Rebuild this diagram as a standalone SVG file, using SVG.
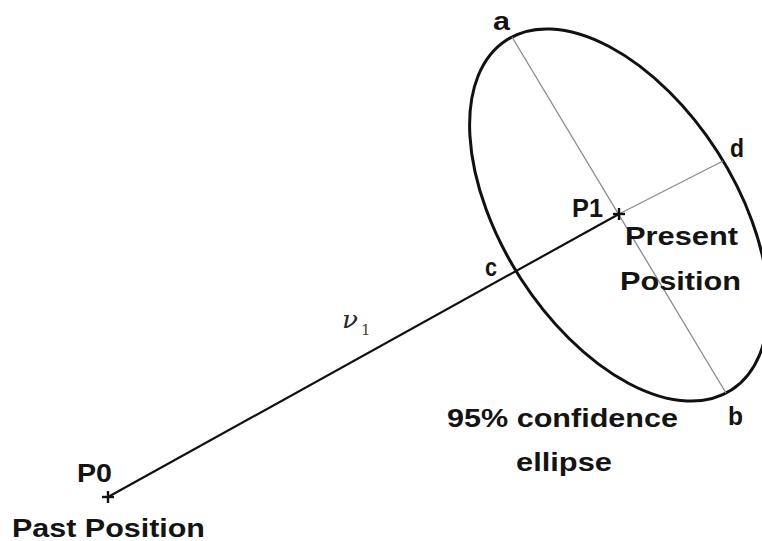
<svg xmlns="http://www.w3.org/2000/svg" width="762" height="541" viewBox="0 0 762 541">
  <style>
    .lbl { font-family: "Liberation Sans", Arial, sans-serif; font-weight: bold; font-size: 25px; fill: #141414; }
    .axis { stroke: #8a8a8a; stroke-width: 1.3; fill: none; }
    .track { stroke: #111; stroke-width: 2.2; fill: none; }
    .cross { stroke: #111; stroke-width: 2.4; }
    .ell { stroke: #111; stroke-width: 3; fill: none; }
    .math { font-family: "DejaVu Serif", "Liberation Serif", serif; }
  </style>
  <rect width="762" height="541" fill="#fff"/>
  <g id="ellipse">
    <ellipse class="ell" cx="619" cy="215" rx="208" ry="117" transform="rotate(57.3 619 215)"/>
    <text class="lbl" x="447" y="427" textLength="231" lengthAdjust="spacingAndGlyphs">95% confidence</text>
    <text class="lbl" x="516" y="471" textLength="96" lengthAdjust="spacingAndGlyphs">ellipse</text>
  </g>
  <g id="connectors">
    <line class="axis" x1="512" y1="37" x2="726" y2="393"/>
    <line class="axis" x1="619" y1="214" x2="723" y2="161"/>
    <line class="track" x1="108" y1="497" x2="619" y2="214"/>
  </g>
  <g id="label-a"><text class="lbl" x="493" y="30" textLength="17" lengthAdjust="spacingAndGlyphs">a</text></g>
  <g id="label-b"><text class="lbl" x="728" y="425" textLength="15" lengthAdjust="spacingAndGlyphs">b</text></g>
  <g id="label-c"><text class="lbl" x="485" y="276" textLength="12" lengthAdjust="spacingAndGlyphs">c</text></g>
  <g id="label-d"><text class="lbl" x="730" y="157" textLength="14" lengthAdjust="spacingAndGlyphs">d</text></g>
  <g id="P1">
    <line class="cross" x1="613" y1="214" x2="625" y2="214"/>
    <line class="cross" x1="619" y1="208" x2="619" y2="220"/>
    <text class="lbl" x="572" y="217" textLength="31" lengthAdjust="spacingAndGlyphs">P1</text>
    <text class="lbl" x="625" y="245" textLength="113" lengthAdjust="spacingAndGlyphs">Present</text>
    <text class="lbl" x="620" y="290" textLength="121" lengthAdjust="spacingAndGlyphs">Position</text>
  </g>
  <g id="P0">
    <line class="cross" x1="102" y1="497" x2="114" y2="497"/>
    <line class="cross" x1="108" y1="491" x2="108" y2="503"/>
    <text class="lbl" x="77" y="482" textLength="35" lengthAdjust="spacingAndGlyphs">P0</text>
    <text class="lbl" x="12" y="537" textLength="193" lengthAdjust="spacingAndGlyphs">Past Position</text>
  </g>
  <g id="nu-label">
    <text class="math" x="342" y="328" font-style="italic" font-size="24" fill="#2a2a2a" textLength="16" lengthAdjust="spacingAndGlyphs">ν</text>
    <text class="math" x="361" y="335" font-size="15" fill="#444">1</text>
  </g>
</svg>
